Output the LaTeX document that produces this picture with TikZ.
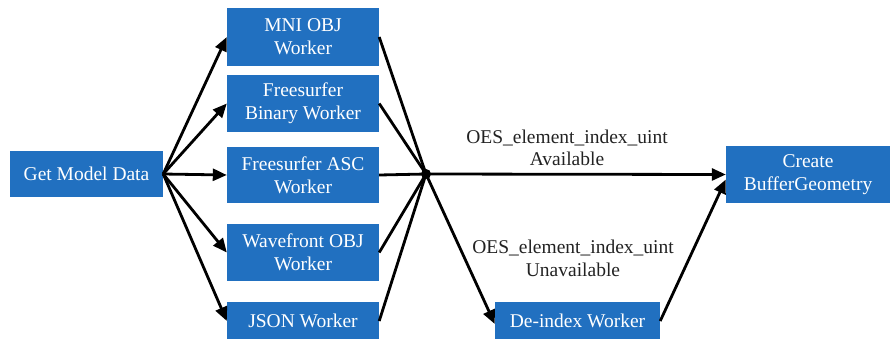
\documentclass[tikz,border=0pt]{standalone}
\usepackage{fontspec}
\setmainfont{Liberation Serif}
\usetikzlibrary{arrows.meta,calc}
\definecolor{boxblue}{RGB}{33,112,192}
\definecolor{labelgray}{RGB}{34,34,34}
\begin{document}
\begin{tikzpicture}[x=1pt,y=-1pt,
  box/.style={fill=boxblue,draw=none,text=white,align=center,
    inner sep=0pt,font=\fontsize{19.5}{23}\selectfont},
  worker/.style={box,minimum width=152pt},
  link/.style={line width=2.8pt,black},
  arrow/.style={link,-{Triangle[length=14pt,width=12pt]}},
  lbl/.style={text=labelgray,align=center,font=\fontsize{19.5}{22.5}\selectfont}]
\useasboundingbox (0,0) rectangle (890,338);
% source
\node[box,minimum width=153pt,minimum height=46pt] (get) at (86.5,174) {Get Model Data};
% loader workers
\node[worker,minimum height=58pt] (mni) at (303,37) {MNI OBJ\\Worker};
\node[worker,minimum height=57pt] (fsb) at (303,103.5) {Freesurfer\\Binary Worker};
\node[worker,minimum height=56pt] (fsa) at (303,175) {Freesurfer ASC\\Worker};
\node[worker,minimum height=57pt] (wav) at (303,252.5) {Wavefront OBJ\\Worker};
\node[worker,minimum height=38pt] (json) at (303,321) {JSON Worker};
% targets
\node[box,minimum width=164pt,minimum height=57pt] (geo) at (808,174.5) {Create\\BufferGeometry};
\node[box,minimum width=165pt,minimum height=38pt] (dei) at (577.5,321) {De-index Worker};
% junction
\coordinate (j) at (426,174);
\fill (j) circle (5pt);
% fan out
\foreach \w in {mni,fsb,fsa,wav,json}{
  \draw[arrow] (get.east) -- (\w.west);
  \draw[link] (\w.east) -- (j);
}
% fan in
\draw[arrow] (j) -- (geo.west);
\draw[arrow] (j) -- ([yshift=-3pt]dei.west);
\draw[arrow] (dei.east) -- ([yshift=-5pt]geo.west);
% conditions
\node[lbl] (avail) at (567,148) {OES\_element\_index\_uint\\Available};
\node[lbl] (unavail) at (573,258.5) {OES\_element\_index\_uint\\Unavailable};
\end{tikzpicture}
\end{document}
